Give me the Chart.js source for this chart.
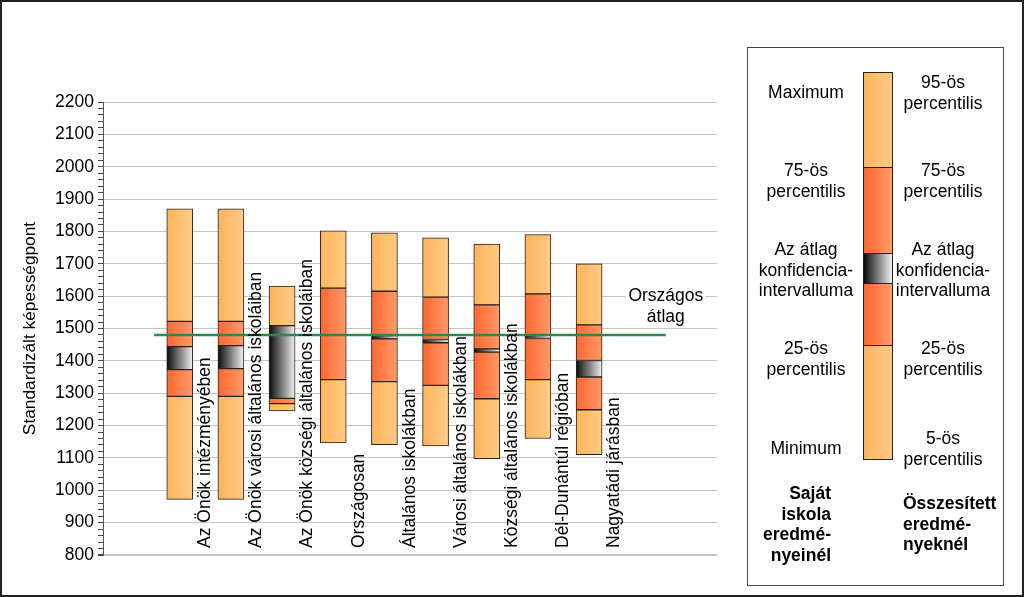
<!DOCTYPE html>
<html>
<head>
<meta charset="utf-8">
<script src="https://cdn.jsdelivr.net/npm/chart.js@4"></script>
<style>
  body { margin: 0; background: #fff; font-family: "Liberation Sans", Arial, sans-serif; }
  #wrap { position: relative; width: 1024px; height: 597px; overflow: hidden; }
  #chartBox { position: absolute; left: 0; top: 0; width: 740px; height: 597px; }
  #frame { position: absolute; left: 0; top: 0; width: 1020px; height: 593px; border: 2px solid #222; pointer-events: none; }
  #legendBox { position: absolute; left: 747px; top: 47px; width: 255px; height: 537px; border: 1px solid #444; }
  .t { position: absolute; font-size: 17.5px; line-height: 20.5px; color: #000; width: 150px; text-align: center; }
  .b { font-weight: bold; }
  .seg { position: absolute; left: 863px; width: 30px; box-sizing: border-box; border: 1px solid #2a2118; }
</style>
</head>
<body>
<div id="wrap">
  <div id="chartBox"><canvas id="chart" width="740" height="597"></canvas></div>
  <div id="legendBox"></div>
  <!-- legend key bar -->
  <div class="seg" style="top:72px;height:96px;background:linear-gradient(to right,#fdb45c,#ffcb86)"></div>
  <div class="seg" style="top:167px;height:87px;background:linear-gradient(to right,#ff6631,#ff9a68)"></div>
  <div class="seg" style="top:253px;height:31px;background:linear-gradient(to right,#0a0a0a,#f2f2f2)"></div>
  <div class="seg" style="top:283px;height:63px;background:linear-gradient(to right,#ff6631,#ff9a68)"></div>
  <div class="seg" style="top:345px;height:115px;background:linear-gradient(to right,#fdb45c,#ffcb86)"></div>
  <!-- left column -->
  <div class="t" style="left:731px;top:82px">Maximum</div>
  <div class="t" style="left:731px;top:160px">75-ös<br>percentilis</div>
  <div class="t" style="left:731px;top:239px">Az átlag<br>konfidencia-<br>intervalluma</div>
  <div class="t" style="left:731px;top:338px">25-ös<br>percentilis</div>
  <div class="t" style="left:731px;top:438px">Minimum</div>
  <div class="t b" style="left:681px;top:483px;text-align:right">Saját<br>iskola<br>eredmé-<br>nyeinél</div>
  <!-- right column -->
  <div class="t" style="left:868px;top:72px">95-ös<br>percentilis</div>
  <div class="t" style="left:868px;top:160px">75-ös<br>percentilis</div>
  <div class="t" style="left:868px;top:239px">Az átlag<br>konfidencia-<br>intervalluma</div>
  <div class="t" style="left:868px;top:338px">25-ös<br>percentilis</div>
  <div class="t" style="left:868px;top:428px">5-ös<br>percentilis</div>
  <div class="t b" style="left:903px;top:493px;text-align:left">Összesített<br>eredmé-<br>nyeknél</div>
  <div id="frame"></div>
</div>
<script>
// categories (one empty slot left, two right, like the original)
const groups = ["Az Önök intézményében", "Az Önök városi általános iskoláiban", "Az Önök községi általános iskoláiban",
    "Országosan", "Általános iskolákban", "Városi általános iskolákban", "Községi általános iskolákban",
    "Dél-Dunántúl régióban", "Nagyatádi járásban"];

// values
const minVals  = [972, 972, 1245, 1146, 1141, 1137, 1098, 1160, 1110];
const q25Vals  = [1290, 1290, 1268, 1342, 1336, 1324, 1283, 1342, 1249];
const ciLow    = [1373, 1376, 1284, 1479, 1468, 1456, 1427, 1469, 1350];
const ciHigh   = [1444, 1447, 1509, 1481, 1478, 1466, 1437, 1479, 1401];
const q75Vals  = [1522, 1522, 1509, 1625, 1615, 1597, 1573, 1607, 1511];
const maxVals  = [1870, 1870, 1631, 1802, 1796, 1780, 1761, 1790, 1700];
const nationalAvg = 1480;
const avgLabel = ["Országos", "átlag"];

const yTicks = { min: 800, max: 2200, major: 100, minor: 20 };

const catLabels = [""].concat(groups, ["", ""]);

//build [low, high] pairs padded to the category slots
function pairs(lo, hi) {
    return [null].concat(lo.map((v, i) => [v, hi[i]]), [null, null]);
}

function grad(c0, c1) {
    return (ctx) => {
        const chart = ctx.chart;
        const x = chart.scales.x;
        if (!x || !chart.chartArea || ctx.dataIndex === undefined) return c0;
        const px = x.getPixelForValue(ctx.dataIndex);
        if (!isFinite(px)) return c0;
        const g = chart.ctx.createLinearGradient(px - 13, 0, px + 13, 0);
        g.addColorStop(0, c0);
        g.addColorStop(1, c1);
        return g;
    };
}

const light = grad("#fdb45c", "#ffcb86");
const orange = grad("#ff6631", "#ff9a68");
const conf = grad("#0a0a0a", "#f2f2f2");

function segment(lo, hi, bg) {
    return {
        data: pairs(lo, hi),
        backgroundColor: bg,
        borderColor: "#2a2118",
        borderWidth: 1,
        borderSkipped: false,
        grouped: false,
        barThickness: 26,
        xAxisID: "x"
    };
}

//labels drawn inside the plot, half a slot right of each bar
const textPlugin = {
    id: "texts",
    afterDraw(chart) {
        const ctx = chart.ctx;
        const x2 = chart.scales.x2;
        const y = chart.scales.y;
        ctx.save();
        ctx.fillStyle = "#000";
        ctx.font = "17.5px 'Liberation Sans', Arial, sans-serif";
        groups.forEach((g, i) => {
            ctx.save();
            ctx.translate(x2.getPixelForValue(i + 2), 548);
            ctx.rotate(-Math.PI / 2);
            ctx.textAlign = "left";
            ctx.textBaseline = "middle";
            ctx.fillText(g, 0, 0);
            ctx.restore();
        });
        // Országos átlag
        const ax = x2.getPixelForValue(11);
        ctx.textAlign = "center";
        ctx.textBaseline = "middle";
        const ys = [y.getPixelForValue(1599), y.getPixelForValue(1534)];
        avgLabel.forEach((t, i) => {
            const w = ctx.measureText(t).width;
            ctx.fillStyle = "#fff";
            ctx.fillRect(ax - w / 2 - 2, ys[i] - 9, w + 4, 18);
            ctx.fillStyle = "#000";
            ctx.fillText(t, ax, ys[i]);
        });
        ctx.restore();
    }
};

Chart.defaults.font.family = "'Liberation Sans', Arial, sans-serif";
Chart.defaults.font.size = 17.5;
Chart.defaults.color = "#000";

new Chart(document.getElementById("chart"), {
    type: "bar",
    data: {
        labels: catLabels,
        datasets: [
            segment(minVals, q25Vals, light),
            segment(q25Vals, ciLow, orange),
            segment(ciLow, ciHigh, conf),
            segment(ciHigh, q75Vals, orange),
            segment(q75Vals, maxVals, light),
            {
                type: "line",
                data: [{ x: 1, y: nationalAvg }, { x: 11, y: nationalAvg }],
                xAxisID: "x2",
                borderColor: "#2e8752",
                borderWidth: 2.5,
                pointRadius: 0,
                fill: false,
                order: -1
            }
        ]
    },
    options: {
        animation: false,
        responsive: false,
        layout: { padding: { left: 0, top: 102, right: 23, bottom: 42 } },
        plugins: { legend: { display: false }, tooltip: { enabled: false } },
        scales: {
            x: {
                type: "category",
                display: false,
                offset: true
            },
            x2: {
                type: "linear",
                display: false,
                offset: false,
                min: 0,
                max: 12
            },
            y: {
                min: yTicks.min,
                max: yTicks.max,
                afterFit: (s) => { s.width = 103; },
                title: {
                    display: true,
                    text: "Standardizált képességpont",
                    font: { size: 17.3 },
                    padding: { top: 20 }
                },
                ticks: {
                    stepSize: yTicks.minor,
                    autoSkip: false,
                    padding: 4,
                    callback: (v) => (v % yTicks.major === 0 ? v : "")
                },
                grid: {
                    color: (c) => (c.tick && c.tick.value % yTicks.major === 0 ? "#c4c4c4" : "rgba(0,0,0,0)"),
                    lineWidth: (c) => (c.tick && c.tick.value === yTicks.min ? 2 : 1),
                    tickColor: "#444",
                    tickLength: 5
                },
                border: { display: true, color: "#555", width: 1 }
            }
        }
    },
    plugins: [textPlugin]
});
</script>
</body>
</html>
